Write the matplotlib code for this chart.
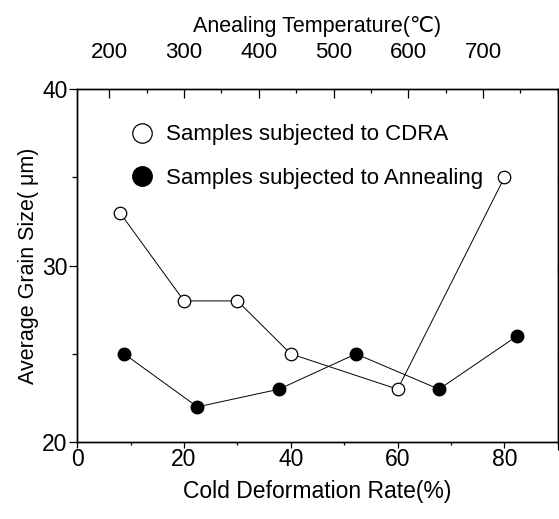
import matplotlib.pyplot as plt
from matplotlib.lines import Line2D
from matplotlib.ticker import MultipleLocator

plt.rcParams['font.family'] = ['Liberation Sans', 'DejaVu Sans']

# CDRA samples, bottom axis (cold deformation rate %)
cdra_rate = [8, 20, 30, 40, 60, 80]
cdra_size = [33, 28, 28, 25, 23, 35]

# annealed samples, top axis (temperature, as placed in the figure)
anneal_temp = [220, 318, 427, 530, 641, 745]
anneal_size = [25, 22, 23, 25, 23, 26]

top_ticks = [200, 300, 400, 500, 600, 700]

fig = plt.figure(figsize=(5.59, 5.19), dpi=100)
ax = fig.add_axes([0.138, 0.148, 0.86, 0.6805])

ax.plot(cdra_rate, cdra_size, color='black', lw=0.7, marker='o', ms=9,
        mfc='white', mec='black', mew=0.9, zorder=3)
ax.set_xlim(0, 90)
ax.set_ylim(20, 40)
ax.set_xticks([0, 20, 40, 60, 80])
ax.set_yticks([20, 30, 40])
ax.xaxis.set_minor_locator(MultipleLocator(10))
ax.yaxis.set_minor_locator(MultipleLocator(5))
ax.tick_params(axis='both', which='both', direction='out', labelsize=16.5,
               top=False, right=True, width=0.9)
ax.tick_params(axis='x', which='major', length=4.5, pad=0)
ax.tick_params(axis='x', which='minor', length=2.5)
ax.tick_params(axis='y', which='major', length=5.8, pad=1)
ax.tick_params(axis='y', which='minor', length=3.6)
ax.set_xlabel('Cold Deformation Rate(%)', fontsize=16.5, labelpad=6)
ax.set_ylabel('Average Grain Size( μm)', fontsize=15.5, labelpad=2)

# right side ticks point inward
for t in ax.yaxis.get_major_ticks() + ax.yaxis.get_minor_ticks():
    t.tick2line.set_marker(3)

ax2 = ax.twiny()
ax2.plot(anneal_temp, anneal_size, color='black', lw=0.7, marker='o', ms=9,
         mfc='black', mec='black', zorder=3)
ax2.set_xlim(157.14, 800)
ax2.set_xticks(top_ticks)
ax2.xaxis.set_minor_locator(MultipleLocator(50))
ax2.tick_params(axis='x', which='both', direction='in', labelsize=16, pad=19, width=0.9)
ax2.tick_params(which='major', length=6.5)
ax2.tick_params(which='minor', length=3)
ax2.set_xlabel('Anealing Temperature(℃)', fontsize=15.5, labelpad=7)

for a in (ax, ax2):
    for s in a.spines.values():
        s.set_linewidth(1.0)

handles = [
    Line2D([], [], ls='none', marker='o', ms=14, mfc='white', mec='black', mew=0.9),
    Line2D([], [], ls='none', marker='o', ms=14, mfc='black', mec='black'),
]
ax.legend(handles, ['Samples subjected to CDRA', 'Samples subjected to Annealing'],
          loc='upper left', bbox_to_anchor=(0.07, 0.925), frameon=False,
          fontsize=16, handletextpad=0.1, labelspacing=1.0, borderaxespad=0)

fig.savefig('out.png', dpi=100)
